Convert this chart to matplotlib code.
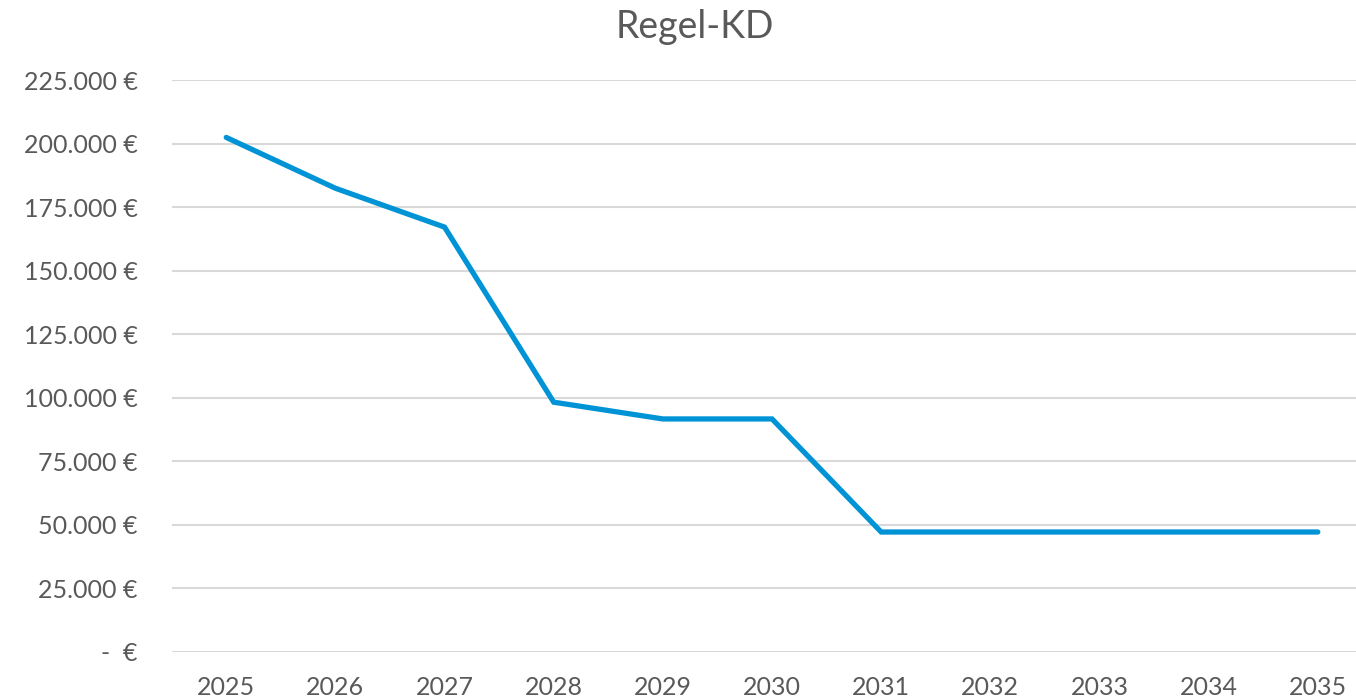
import matplotlib.pyplot as plt
from matplotlib.ticker import FuncFormatter

# data
years = [2025, 2026, 2027, 2028, 2029, 2030, 2031, 2032, 2033, 2034, 2035]
kosten = [202500, 182500, 167200, 98300, 91700, 91700, 47200, 47200, 47200, 47200, 47200]
y_ticks = [0, 25000, 50000, 75000, 100000, 125000, 150000, 175000, 200000, 225000]

plt.rcParams['font.family'] = ['Lato', 'DejaVu Sans']
grey = '#595959'


def euro(v, pos):
    if v == 0:
        return '-  €'
    return '{:,.0f} €'.format(v).replace(',', '.')


fig = plt.figure(figsize=(13.56, 6.98), dpi=100)
ax = fig.add_axes([0.127, 0.066, 0.873, 0.819])

ax.plot(years, kosten, color='#0093D5', lw=3.8, solid_capstyle='round', solid_joinstyle='miter', zorder=3)

ax.set_ylim(0, 225000)
ax.set_xlim(2024.505, 2035.35)
ax.set_yticks(y_ticks)
ax.set_xticks(years)
ax.yaxis.set_major_formatter(FuncFormatter(euro))
ax.grid(axis='y', color='#d9d9d9', lw=1.5)
ax.set_axisbelow(True)
for s in ax.spines.values():
    s.set_visible(False)
ax.tick_params(axis='y', length=0, pad=25, labelsize=18, labelcolor=grey)
ax.tick_params(axis='x', length=0, pad=17, labelsize=18, labelcolor=grey)

fig.text(0.5125, 0.961, 'Regel-KD', ha='center', va='center', fontsize=27, color=grey)

fig.savefig('out.png', dpi=100)
